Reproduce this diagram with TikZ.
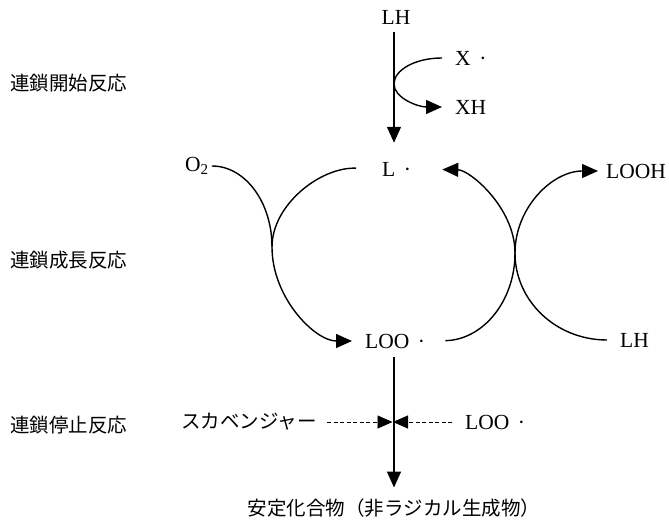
\documentclass[tikz,border=0pt]{standalone}
\usepackage{fontspec}
\setmainfont{Liberation Serif}
\newfontfamily\jpfont{Noto Sans CJK JP}
\usetikzlibrary{arrows.meta}

\tikzset{
	lbl/.style={inner sep=0pt,font=\fontsize{21.5}{24}\selectfont},
	jlbl/.style={inner sep=0pt,font=\fontsize{19.5}{22}\selectfont\jpfont},
	rxn/.style={line width=1.4pt},
	rarr/.style={rxn,-{Triangle[length=16pt,width=14pt]}},
	dasharr/.style={line width=0.9pt,dash pattern=on 4pt off 2.5pt,-{Triangle[length=15pt,width=13pt]}}
}

\begin{document}
\begin{tikzpicture}[x=1pt,y=-1pt]
		\useasboundingbox (0,0) rectangle (669,521);
		% stage labels
		\node[jlbl,anchor=west] (init) at (10,83) {連鎖開始反応};
		\node[jlbl,anchor=west] (prop) at (10,260) {連鎖成長反応};
		\node[jlbl,anchor=west] (term) at (10,425) {連鎖停止反応};
		% species
		\node[lbl] (lh) at (396,17) {LH};
		\node[lbl,anchor=west] (x) at (455,58) {X\hspace{0.4em}·};
		\node[lbl,anchor=west] (xh) at (455,107) {XH};
		\node[lbl,anchor=west] (l) at (382,169) {L\hspace{0.4em}·};
		\node[lbl,anchor=west] (o2) at (185,166) {O\textsubscript{2}};
		\node[lbl,anchor=west] (looh) at (606,171) {LOOH};
		\node[lbl,anchor=west] (loo) at (365,341) {LOO\hspace{0.4em}·};
		\node[lbl,anchor=west] (lhb) at (620,340) {LH};
		\node[jlbl,anchor=east] (scav) at (317,422) {スカベンジャー};
		\node[lbl,anchor=west] (loob) at (465,422) {LOO\hspace{0.4em}·};
		\node[jlbl] (prod) at (394,508) {安定化合物（非ラジカル生成物）};
		\coordinate (kissT) at (394,84);
		\coordinate (kissL) at (272,247);
		\coordinate (kissR) at (515,253);
		\coordinate (stop) at (394,422);
		% initiation
		\draw[rarr,shorten <=8pt,shorten >=19pt] (lh.south -| kissT) -- (l.north -| kissT);
		\draw[rarr,shorten <=13pt,shorten >=13pt] (x.west) .. controls (415,58) and (394,70) .. (kissT)
			.. controls (394,98) and (418,107) .. (xh.west);
		% propagation
		\draw[rarr,shorten <=3pt,shorten >=13pt] (o2.east) .. controls (245,166) and (272,202) .. (kissL)
			.. controls (272,298) and (315,341) .. (loo.west);
		\draw[rxn,shorten <=26pt] (l.west) .. controls (320,167) and (272,205) .. (kissL);
		\draw[rarr,shorten <=20pt,shorten >=31pt] (loo.east) .. controls (483,340) and (515,301) .. (kissR)
			.. controls (515,208) and (470,170) .. (l.east);
		\draw[rarr,shorten <=13pt,shorten >=8pt] (lhb.west) .. controls (556,340) and (515,301) .. (kissR)
			.. controls (515,208) and (552,171) .. (looh.west);
		% termination
		\draw[rarr,shorten <=9pt,shorten >=11pt] (loo.south -| stop) -- (prod.north);
		\draw[dasharr,shorten <=10pt,shorten >=1.5pt] (scav.east) -- (stop);
		\draw[dasharr,shorten <=13pt,shorten >=-1pt] (loob.west) -- (stop);
	\end{tikzpicture}
\end{document}
